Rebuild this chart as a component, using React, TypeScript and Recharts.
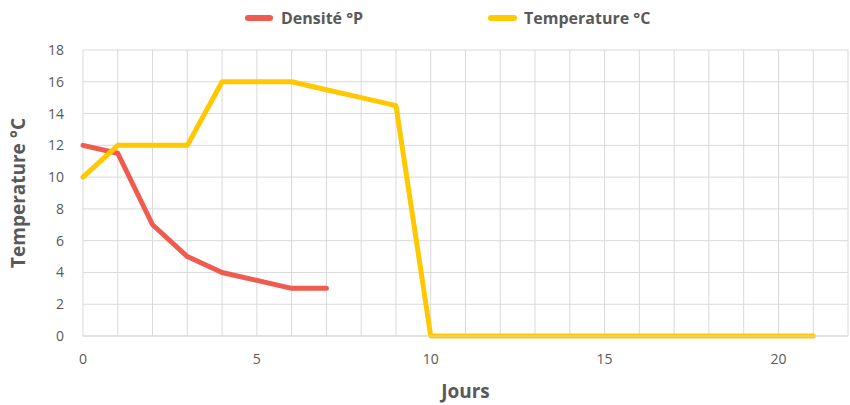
import React from "react";
import {
  CartesianGrid,
  Label,
  Line,
  LineChart,
  XAxis,
  YAxis,
} from "recharts";

const days = [0, 1, 2, 3, 4, 5, 6, 7, 8, 9, 10, 11, 12, 13, 14, 15, 16, 17, 18, 19, 20, 21];
const densite = [12, 11.5, 7, 5, 4, 3.5, 3, 3];
const temperature = [10, 12, 12, 12, 16, 16, 16, 15.5, 15, 14.5, 0, 0, 0, 0, 0, 0, 0, 0, 0, 0, 0, 0];
const xTicks = [0, 1, 2, 3, 4, 5, 6, 7, 8, 9, 10, 11, 12, 13, 14, 15, 16, 17, 18, 19, 20, 21, 22];
const yTicks = [0, 2, 4, 6, 8, 10, 12, 14, 16, 18];

const RED = "#EF5B4F";
const YELLOW = "#FFC800";
const FONT = "'Open Sans', sans-serif";

const data = days.map((d, i) => ({
  day: d,
  densite: i < densite.length ? densite[i] : null,
  temp: temperature[i],
}));

// legend drawn as plain html over the chart so it doesn't push the plot down
const ChartLegend = () => (
  <div
    style={{
      position: "absolute",
      top: 6,
      left: 0,
      width: 850,
      height: 24,
      fontFamily: FONT,
      fontSize: 16,
      fontWeight: 700,
      color: "#595959",
    }}
  >
    <div style={{ position: "absolute", left: 245, top: 0, height: 24, display: "flex", alignItems: "center" }}>
      <span style={{ width: 28, height: 6, borderRadius: 3, background: RED, marginRight: 8 }} />
      Densité °P
    </div>
    <div style={{ position: "absolute", left: 488, top: 0, height: 24, display: "flex", alignItems: "center" }}>
      <span style={{ width: 29, height: 6, borderRadius: 3, background: YELLOW, marginRight: 7 }} />
      Temperature °C
    </div>
  </div>
);

export default function App() {
  return (
    <div style={{ position: "absolute", left: 0, top: 0, width: 850, height: 405, background: "#fff" }}>
      <LineChart
        width={850}
        height={405}
        data={data}
        margin={{ top: 50, right: 2, left: 0, bottom: 0 }}
      >
        <CartesianGrid stroke="#d9d9d9" strokeWidth={1} />
        <XAxis
          dataKey="day"
          type="number"
          domain={[0, 22]}
          ticks={xTicks}
          interval={0}
          tickFormatter={(v: number) => (v % 5 === 0 && v <= 20 ? String(v) : "")}
          axisLine={{ stroke: "#d9d9d9" }}
          tickLine={false}
          tickMargin={12}
          height={69}
          tick={{ fontSize: 14, fill: "#595959", fontFamily: FONT }}
        >
          <Label
            value="Jours"
            position="insideBottom"
            offset={7}
            style={{ fontSize: 19, fontWeight: 700, fill: "#595959", fontFamily: FONT }}
          />
        </XAxis>
        <YAxis
          type="number"
          domain={[0, 18]}
          ticks={yTicks}
          interval={0}
          width={83}
          axisLine={false}
          tickLine={false}
          tickMargin={13}
          tick={{ fontSize: 14, fill: "#595959", fontFamily: FONT }}
        >
          <Label
            value="Temperature °C"
            angle={-90}
            position="insideLeft"
            offset={18}
            style={{ fontSize: 19, fontWeight: 700, fill: "#595959", fontFamily: FONT, textAnchor: "middle" }}
          />
        </YAxis>
        <Line
          type="linear"
          dataKey="densite"
          stroke={RED}
          strokeWidth={5}
          strokeLinecap="round"
          strokeLinejoin="round"
          dot={false}
          isAnimationActive={false}
        />
        <Line
          type="linear"
          dataKey="temp"
          stroke={YELLOW}
          strokeWidth={5}
          strokeLinecap="round"
          strokeLinejoin="round"
          dot={false}
          isAnimationActive={false}
        />
      </LineChart>
      <ChartLegend />
    </div>
  );
}
